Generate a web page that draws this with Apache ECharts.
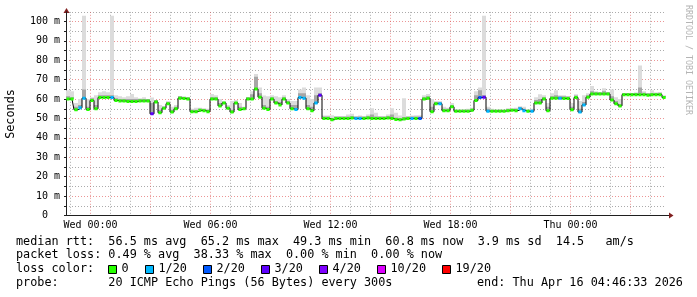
<!DOCTYPE html>
<html><head><meta charset="utf-8">
<script src="https://cdn.jsdelivr.net/npm/echarts@6/dist/echarts.min.js"></script>
<style>html,body{margin:0;padding:0;background:#fff}#c{width:697px;height:297px}</style>
</head><body><div id="c"></div>
<script>
// time axis in hours relative to Wed 00:00; graph spans Tue 22:46:33 .. Thu 04:46:33
const startHour = -1.2242;
const endHour = 28.7758;
const stepHours = 0.2;

const median = [
60, 60, 54.5, 55.5, 60.5, 54.6, 59.3, 55, 60.8, 60.8,
60.8, 60.8, 59.3, 59, 59, 58.8, 58.8, 58.8, 59, 59,
59, 52.4, 58.5, 53, 55.3, 57.6, 53.3, 55, 60.5, 60.3,
60, 53.5, 53.5, 54.2, 54, 53.5, 60, 60, 56.5, 58,
55.3, 53.3, 58, 54.6, 55, 60, 60, 65.2, 61, 55.3,
54.6, 60, 58, 57, 60, 58, 55, 54.6, 60.8, 60.5,
55, 54, 58, 62, 50, 50, 49.3, 50, 50, 50,
50, 50.2, 50, 50, 50, 50.2, 50, 50, 50, 50,
50.2, 50, 49.5, 49.3, 49.8, 50, 50, 50, 50, 60,
60.5, 53.5, 57.6, 57.6, 54, 54, 56, 53.7, 53.7, 53.7,
53.7, 54.3, 59.3, 60.8, 61, 53.8, 53.8, 53.8, 53.8, 53.8,
54, 54.3, 54, 55, 54, 53.7, 53.7, 58, 58, 60,
54, 60.5, 60.5, 60.5, 60.3, 60.3, 54.5, 60.8, 53.3, 57,
61, 62.6, 62.6, 62.6, 62.6, 62.6, 59.5, 57.6, 56.5, 62.3,
62.3, 62.3, 62.3, 62.3, 62.3, 62, 62.3, 62.3, 62.3, 60.8
];

const smokeHi = [
64.5, 64, 58, 60, 103, 60, 61, 62, 63.5, 64,
63.5, 103, 62, 61.5, 61, 61.5, 62.6, 61, 60.5, 61,
60, 60.8, 59.5, 57, 56.5, 59, 56, 57, 61.5, 61.5,
61, 55, 55.5, 55.5, 55, 55, 62.6, 62, 60, 59,
57, 59, 59.5, 58, 56, 61, 64, 73, 66, 61.9,
61.5, 62, 61.5, 61, 62, 60, 59, 59, 65, 66,
62, 60, 66, 66, 51.5, 51.5, 51.7, 51, 51, 51,
52, 52.4, 51, 51.5, 51, 52, 55.3, 53, 51, 51,
52, 55.3, 53, 51.5, 60.5, 51, 51.5, 51.7, 51.7, 62,
62.6, 60, 59, 59, 56, 55.5, 58, 54.5, 54.5, 54.5,
55, 55.5, 64, 66, 103, 56, 55, 54.4, 54.5, 54.4,
55, 55, 55.5, 56, 56, 54.5, 55, 61, 62.5, 62,
58, 63, 64.5, 62, 62, 61.5, 58, 62.5, 59, 62,
63, 66.7, 64, 63, 65.6, 63.5, 65, 61, 60, 63,
63, 62.8, 63, 77.3, 64, 63, 64.5, 63, 63.5, 62
];

const smokeMid = [
61.5, 61, 56, 57, 65, 56, 60.5, 57, 62, 62,
62, 62, 60.5, 60, 60, 60, 60, 60, 60, 60,
60, 58, 59.5, 54.5, 56, 58.5, 54.5, 56, 61.5, 61,
61, 54.5, 54.5, 55, 55, 54.5, 61, 61, 58, 58.5,
56, 54.5, 58.5, 56, 55.5, 61, 62.5, 71.5, 63, 57,
56, 61, 59, 58.5, 61, 59, 57, 57, 63, 63,
57, 56, 62, 63, 51, 51, 50.3, 51, 51, 51,
51, 51.2, 51, 51, 51, 51.2, 52, 51, 51, 51,
51.2, 52, 50.5, 50.3, 50.8, 51, 51, 51, 51, 61,
61.5, 56, 58.5, 58.5, 55, 55, 57, 54.5, 54.5, 54.5,
54.5, 55, 62, 64.5, 62, 55, 54.5, 54.5, 54.5, 54.5,
55, 55, 55, 56, 55, 54.5, 54.5, 59.5, 60, 61,
56, 61.5, 62, 61.5, 61.5, 61.3, 56, 61.8, 55, 58.5,
62, 64, 63.5, 63.5, 64, 63.5, 61.5, 59, 57.5, 63.2,
63.2, 63.2, 63.3, 66, 63.3, 63, 63.2, 63.3, 63.3, 61.5
];

// index into lossColors (0 = no loss)
const lossLevel = [
0,0,0,1,1,0,0,0,0,0,
0,1,0,0,0,0,0,0,0,0,
0,3,0,0,0,0,0,0,0,0,
0,0,0,0,0,0,0,0,0,0,
0,0,0,0,0,0,0,0,0,0,
0,0,0,0,0,0,0,1,1,1,
0,0,1,3,0,0,0,0,0,0,
0,0,1,1,0,0,0,0,0,0,
0,0,0,0,0,0,1,0,2,0,
0,0,0,1,0,0,0,0,0,0,
0,0,0,2,3,1,0,0,0,0,
0,0,0,1,1,0,1,0,0,0,
0,0,0,1,0,0,0,0,1,1,
0,0,0,0,0,0,0,0,0,0,
0,0,0,0,0,0,0,0,0,0
];

const lossColors = ['#26ff00','#00b8ff','#0059ff','#5e00ff','#7e00ff','#dd00ff','#ff0000'];
const lossLabels = ['0','1/20','2/20','3/20','4/20','10/20','19/20'];
const xTickHours = [0, 6, 12, 18, 24];
const xTickLabels = ['Wed 00:00','Wed 06:00','Wed 12:00','Wed 18:00','Thu 00:00'];
const gridHours = [-1,0,1,2,3,4,5,6,7,8,9,10,11,12,13,14,15,16,17,18,19,20,21,22,23,24,25,26,27,28];

const statLines = [
  'median rtt:  56.5 ms avg  65.2 ms max  49.3 ms min  60.8 ms now  3.9 ms sd  14.5   am/s',
  'packet loss: 0.49 % avg  38.33 % max  0.00 % min  0.00 % now',
  'loss color:',
  'probe:       20 ICMP Echo Pings (56 Bytes) every 300s'
];
const endText = 'end: Thu Apr 16 04:46:33 2026';

const MAJOR = 'rgba(222,79,79,0.6)';
const MINOR = 'rgba(143,143,143,0.75)';
const MONO = '"DejaVu Sans Mono", monospace';

const rows = median.map((m, i) => [startHour + stepHours * (i + 0.5), m, smokeHi[i], smokeMid[i], lossLevel[i]]);

function band(hiDim, color) {
  return function (params, api) {
    const t = api.value(0), lo = api.value(1), hi = api.value(hiDim);
    const a = api.coord([t - stepHours / 2, hi]);
    const b = api.coord([t + stepHours / 2, lo]);
    return { type: 'rect', shape: { x: a[0], y: Math.min(a[1], b[1]), width: b[0] - a[0], height: Math.abs(b[1] - a[1]) },
      style: { fill: color } };
  };
}

const chart = echarts.init(document.getElementById('c'), null, { renderer: 'canvas' });
const graphic = [];
graphic.push({ type: 'text', x: 11, y: 114, rotation: Math.PI / 2,
  style: { text: 'Seconds', font: '11.8px ' + MONO, fill: '#000', textAlign: 'center', textVerticalAlign: 'middle', verticalAlign: 'middle' } });
graphic.push({ type: 'text', x: 688, y: 5, rotation: -Math.PI / 2,
  style: { text: 'RRDTOOL / TOBI OETIKER', font: '8.3px ' + MONO, fill: '#b4b4b4', textAlign: 'left', textVerticalAlign: 'middle', verticalAlign: 'middle' } });
const rowY = [241.5, 255, 269.3, 282.7];
statLines.forEach((s, k) => graphic.push({ type: 'text', x: 16, y: rowY[k],
  style: { text: s, font: '11.8px ' + MONO, fill: '#000', textAlign: 'left', textVerticalAlign: 'middle', verticalAlign: 'middle' } }));
graphic.push({ type: 'text', x: 477, y: rowY[3],
  style: { text: endText, font: '11.8px ' + MONO, fill: '#000', textAlign: 'left', textVerticalAlign: 'middle', verticalAlign: 'middle' } });
const boxX = [108.5, 145.5, 203.5, 261.5, 319.5, 377.5, 442.5];
lossLabels.forEach((lab, k) => {
  graphic.push({ type: 'rect', shape: { x: boxX[k], y: 265.5, width: 8, height: 8 },
    style: { fill: lossColors[k], stroke: '#000', lineWidth: 1 } });
  graphic.push({ type: 'text', x: boxX[k] + 13, y: rowY[2],
    style: { text: lab, font: '11.8px ' + MONO, fill: '#000', textAlign: 'left', textVerticalAlign: 'middle', verticalAlign: 'middle' } });
});
graphic.push({ type: 'line', shape: { x1: 666, y1: 215.5, x2: 670, y2: 215.5 }, style: { stroke: '#1f1f1f', lineWidth: 1 } });
graphic.push({ type: 'polygon', shape: { points: [[669, 212.5], [673.5, 215.5], [669, 218.5]] }, style: { fill: '#801f1f' } });
graphic.push({ type: 'polygon', shape: { points: [[63.5, 13], [66.5, 8], [69.5, 13]] }, style: { fill: '#801f1f' } });

chart.setOption({
  animation: false,
  backgroundColor: '#fff',
  grid: { left: 66, right: 31, top: 11.8, bottom: 81.5, containLabel: false },
  xAxis: {
    type: 'value', min: startHour, max: endHour,
    axisLine: { show: true, onZero: false, lineStyle: { color: '#1f1f1f', width: 1 } },
    axisTick: { show: false },
    splitLine: { show: false },
    axisLabel: { customValues: xTickHours, margin: 5, fontFamily: MONO, fontSize: 10, color: '#000',
      formatter: v => { const k = xTickHours.indexOf(Math.round(v)); return k >= 0 ? xTickLabels[k] : ''; } }
  },
  yAxis: {
    type: 'value', min: 0, max: 105, interval: 5,
    axisLine: { show: true, onZero: false, lineStyle: { color: '#1f1f1f', width: 1 } },
    axisTick: { show: true, length: 2, lineStyle: { color: '#1f1f1f' } },
    axisLabel: { margin: 6, fontFamily: MONO, fontSize: 10, color: '#000', showMaxLabel: false,
      formatter: v => (Math.round(v) % 10 === 0 && v <= 100) ? (v === 0 ? '0  ' : Math.round(v) + ' m') : '' },
    splitLine: { show: true, lineStyle: { color: [MAJOR, MINOR], type: [1, 2], width: 1 } }
  },
  graphic: graphic,
  series: [
    { type: 'custom', z: 1, silent: true, clip: true,
      data: gridHours.map(h => [h, 0]),
      encode: { x: 0, y: 1 },
      renderItem: function (params, api) {
        const h = api.value(0);
        const top = api.coord([h, 105]), bot = api.coord([h, 0]);
        const x = Math.floor(top[0]) + 0.5;
        return { type: 'line', shape: { x1: x, y1: top[1], x2: x, y2: bot[1] },
          style: { stroke: (h % 3 === 0) ? MAJOR : MINOR, lineWidth: 1, lineDash: [1, 2] } };
      } },
    { type: 'custom', z: 2, silent: true, clip: true, data: rows, encode: { x: 0, y: [1, 2] }, renderItem: band(2, '#dcdcdc') },
    { type: 'custom', z: 3, silent: true, clip: true, data: rows, encode: { x: 0, y: [1, 3] }, renderItem: band(3, '#a6a6a6') },
    { type: 'line', z: 4, silent: true, step: 'middle', symbol: 'none', data: rows.map(r => [r[0], r[1]]),
      lineStyle: { color: '#000', width: 1 } },
    { type: 'custom', z: 5, silent: true, clip: true, data: rows, encode: { x: 0, y: 1 },
      renderItem: function (params, api) {
        const t = api.value(0), v = api.value(1), c = api.value(4);
        const a = api.coord([t - stepHours / 2 + 0.02, v]);
        const b = api.coord([t + stepHours / 2 - 0.02, v]);
        return { type: 'line', shape: { x1: a[0], y1: a[1], x2: b[0], y2: b[1] },
          style: { stroke: lossColors[c], lineWidth: 3, lineCap: 'butt' } };
      } }
  ]
});
</script></body></html>
